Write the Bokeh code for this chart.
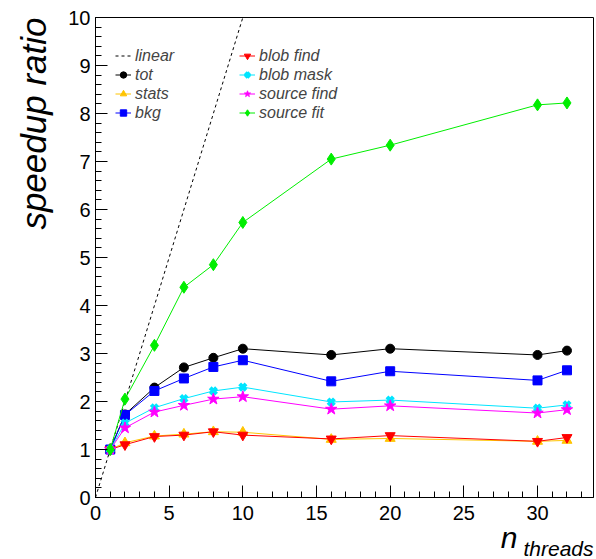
from bokeh.embed import file_html
from bokeh.models import (Legend, LegendItem, Range1d, SingleIntervalTicker,
                          Title)
from bokeh.plotting import figure
from bokeh.resources import INLINE

# Speedup measured for each processing stage vs. number of threads
threads = [1, 2, 4, 6, 8, 10, 16, 20, 30, 32]
tot = [1.0, 1.73, 2.29, 2.71, 2.91, 3.10, 2.97, 3.10, 2.97, 3.06]
stats = [1.0, 1.14, 1.28, 1.32, 1.37, 1.36, 1.21, 1.23, 1.17, 1.19]
bkg = [1.0, 1.72, 2.22, 2.48, 2.72, 2.86, 2.42, 2.63, 2.44, 2.65]
blob_find = [1.0, 1.10, 1.27, 1.30, 1.37, 1.30, 1.22, 1.29, 1.17, 1.25]
blob_mask = [1.0, 1.55, 1.87, 2.06, 2.22, 2.30, 1.99, 2.03, 1.86, 1.93]
source_find = [1.0, 1.45, 1.78, 1.92, 2.05, 2.10, 1.84, 1.91, 1.76, 1.83]
source_fit = [1.0, 2.05, 3.17, 4.38, 4.85, 5.73, 7.05, 7.34, 8.18, 8.22]

# ideal (linear) scaling reference
linear_x = [0, 11]
linear_y = [0, 11]

FONT = "Liberation Sans"

p = figure(width=596, height=559, output_backend="svg", toolbar_location=None,
           x_range=Range1d(0, 33.8), y_range=Range1d(0, 10),
           min_border_left=94, min_border_right=3, min_border_top=17,
           min_border_bottom=62)
p.background_fill_color = "white"
p.border_fill_color = "white"
p.outline_line_color = "black"
p.outline_line_width = 1
p.xgrid.grid_line_color = None
p.ygrid.grid_line_color = None

p.xaxis.ticker = SingleIntervalTicker(interval=5, num_minor_ticks=5)
p.yaxis.ticker = SingleIntervalTicker(interval=1, num_minor_ticks=5)
for ax in (p.xaxis, p.yaxis):
    ax.axis_line_color = "black"
    ax.major_tick_line_color = "black"
    ax.minor_tick_line_color = "black"
    ax.major_tick_in = 12
    ax.major_tick_out = 0
    ax.minor_tick_in = 6
    ax.minor_tick_out = 0
    ax.major_label_text_font = FONT
    ax.major_label_text_font_size = "20px"
    ax.major_label_text_color = "black"
p.yaxis.major_label_standoff = 5
p.xaxis.major_label_standoff = 8

lin = p.line(linear_x, linear_y, line_color="black", line_width=1,
             line_dash="3 3")

series = [
    ("tot", tot, "black", "circle", 9),
    ("stats", stats, "#ffc400", "triangle", 10),
    ("bkg", bkg, "#0000ff", "square", 9),
    ("blob find", blob_find, "#ff0000", "inverted_triangle", 10),
    ("blob mask", blob_mask, "#00e5ff", "x", 9),
    ("source find", source_find, "#ff00ff", "star", 12),
    ("source fit", source_fit, "#00ee00", "diamond", 12),
]

items = {}
for name, vals, color, marker, size in series:
    ln = p.line(threads, vals, line_color=color, line_width=1)
    if marker == "x":
        sc = p.scatter(threads, vals, marker=marker, size=size,
                       line_color=color, line_width=4)
    else:
        sc = p.scatter(threads, vals, marker=marker, size=size,
                       fill_color=color, line_color=color)
    items[name] = [ln, sc]


def make_legend(entries, loc):
    leg = Legend(items=entries, location=loc, orientation="vertical",
                 border_line_color=None, background_fill_alpha=0,
                 padding=0, margin=0, spacing=0,
                 glyph_width=16, glyph_height=19, label_height=19,
                 label_standoff=4, label_text_font=FONT,
                 label_text_font_size="16px", label_text_font_style="italic")
    p.add_layout(leg)
    return leg


make_legend([LegendItem(label="linear", renderers=[lin])] +
            [LegendItem(label=n, renderers=items[n])
             for n in ("tot", "stats", "bkg")], (20, 375))
make_legend([LegendItem(label=n, renderers=items[n])
             for n in ("blob find", "blob mask", "source find", "source fit")],
            (144, 375))

# axis titles, aligned to the far end of each axis
p.add_layout(Title(text="speedup ratio", align="right", standoff=24,
                   vertical_align="middle",
                   text_font=FONT, text_font_style="italic",
                   text_font_size="35px", text_color="black"), "left")
p.add_layout(Title(text="n", align="right", offset=76, standoff=-8,
                   text_font=FONT, text_font_style="italic",
                   text_font_size="30px", text_color="black"), "below")
p.add_layout(Title(text="threads", align="right", offset=0, standoff=-25,
                   vertical_align="top",
                   text_font=FONT, text_font_style="italic",
                   text_font_size="21px", text_color="black"), "below")

open("out.html", "w").write(file_html(p, INLINE))
